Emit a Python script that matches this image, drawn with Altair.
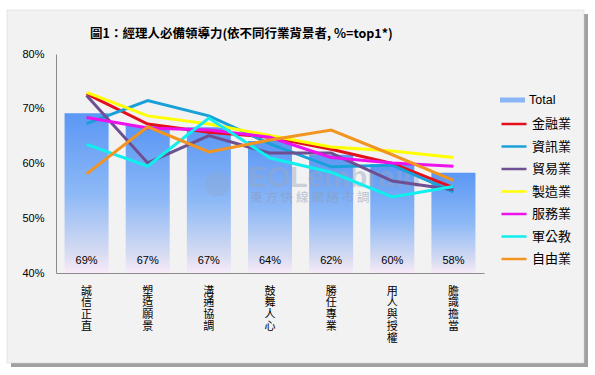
import altair as alt
import pandas as pd

categories = ["誠信正直", "塑造願景", "溝通協調", "鼓舞人心", "勝任專業", "用人與授權", "膽識擔當"]
total = [69.2, 66.9, 66.6, 64.1, 61.6, 59.9, 58.3]

series_names = ["金融業", "資訊業", "貿易業", "製造業", "服務業", "軍公教", "自由業"]
finance = [72.7, 67.2, 65.7, 64.8, 62.6, 60.0, 55.6]
info = [67.3, 71.5, 68.7, 63.6, 59.4, 59.7, 54.8]
trade = [72.4, 60.1, 65.1, 61.9, 61.9, 56.8, 55.2]
manuf = [73.0, 68.7, 67.2, 65.1, 63.0, 62.3, 61.1]
service = [68.4, 66.5, 66.1, 64.8, 61.1, 60.1, 59.5]
public = [63.5, 59.5, 68.3, 61.0, 58.4, 53.9, 55.8]
freelance = [58.1, 66.7, 62.1, 64.3, 66.1, 61.6, 56.9]
series_values = [finance, info, trade, manuf, service, public, freelance]
series_colors = ["#e3101c", "#1aa0d8", "#6e4f92", "#ffff00", "#ee11ee", "#11eeee", "#f29422"]

y_ticks = [40, 50, 60, 70, 80]

W, H = 428, 219
PL, PT = 56, 54

bar_df = pd.DataFrame({"cat": categories, "value": total, "key": ["Total"] * len(categories)})
rows = []
for name, vals in zip(series_names, series_values):
    for c, v in zip(categories, vals):
        rows.append({"cat": c, "series": name, "value": v})
line_df = pd.DataFrame(rows)

xscale = alt.Scale(domain=categories, paddingInner=0.28, paddingOuter=0.14)
yscale = alt.Scale(domain=[40, 80], nice=False, zero=False)

xenc = alt.X("cat:N", scale=xscale, sort=categories, title=None,
             axis=alt.Axis(labelAngle=0, labelExpr="split(datum.label, '')",
                           labelFont="Noto Sans CJK TC", labelFontSize=11,
                           labelLineHeight=11.8, labelBaseline="top",
                           labelPadding=12, ticks=False, domainColor="#8c8c8c",
                           labelColor="#000000", labelOverlap=False, zindex=2))
yenc = alt.Y("value:Q", scale=yscale, title=None,
             axis=alt.Axis(values=y_ticks, labelExpr="datum.value + '%'",
                           grid=False, ticks=False, domainColor="#8c8c8c",
                           labelFont="Liberation Sans", labelFontSize=11,
                           labelPadding=12, labelColor="#000000", zindex=2))

frame_data = alt.Data(values=[{"a": 1}])
shadow = alt.Chart(frame_data).mark_rect(color="#8a8a8a", opacity=0.8).encode(
    x=alt.value(7 - PL + 4), x2=alt.value(584 - PL + 4),
    y=alt.value(10 - PT + 4), y2=alt.value(363 - PT + 4))
frame = alt.Chart(frame_data).mark_rect(color="#f2f2f2", stroke="#d0d0d0", strokeWidth=0.5).encode(
    x=alt.value(7 - PL), x2=alt.value(584 - PL),
    y=alt.value(10 - PT), y2=alt.value(363 - PT))

grad = alt.Gradient(gradient="linear", x1=0, x2=0, y1=0, y2=1,
                    stops=[alt.GradientStop(color="#5b97f5", offset=0),
                           alt.GradientStop(color="#8cb8f6", offset=0.5),
                           alt.GradientStop(color="#d8dcf2", offset=0.88),
                           alt.GradientStop(color="#f8eaf8", offset=1)])

bars = alt.Chart(bar_df).mark_bar(color=grad).encode(
    x=xenc, y=yenc, y2=alt.Y2(datum=40))

total_legend = alt.Chart(bar_df).mark_point(filled=True, opacity=0, size=1).encode(
    x=alt.X("cat:N", scale=xscale, sort=categories),
    y=alt.Y("value:Q", scale=yscale),
    fill=alt.Fill("key:N", scale=alt.Scale(domain=["Total"], range=["#8ab6f6"]),
                  legend=alt.Legend(title=None, orient="none", legendX=500 - PL, legendY=92 - PT,
                                    symbolType="M-1,-0.2L1,-0.2L1,0.2L-1,0.2Z",
                                    symbolSize=625, symbolOpacity=1, symbolStrokeWidth=0,
                                    labelFont="Liberation Sans", labelFontSize=12.5,
                                    labelColor="#000000", labelOffset=4, clipHeight=16)))

bar_labels = alt.Chart(bar_df).transform_calculate(
    base="40", lbl="format(datum.value, '.0f') + '%'"
).mark_text(font="Liberation Sans", fontSize=11, color="#000000",
            baseline="middle", dy=-12).encode(
    x=alt.X("cat:N", scale=xscale, sort=categories),
    y=alt.Y("base:Q", scale=yscale),
    text="lbl:N")

lines = alt.Chart(line_df).mark_line(strokeWidth=3).encode(
    x=alt.X("cat:N", scale=xscale, sort=categories),
    y=alt.Y("value:Q", scale=yscale),
    color=alt.Color("series:N", scale=alt.Scale(domain=series_names, range=series_colors),
                    sort=series_names,
                    legend=alt.Legend(title=None, orient="none", legendX=500 - PL, legendY=114 - PT,
                                      symbolType="stroke", symbolSize=625, symbolStrokeWidth=2.5,
                                      labelFont="Noto Sans CJK TC", labelFontSize=13,
                                      labelColor="#000000", labelOffset=4, clipHeight=20,
                                      rowPadding=2.5)),
    order=alt.Order("series:N")
)

wm1 = alt.Chart(frame_data).mark_text(text="EOLembrain", font="Liberation Sans", fontSize=29,
                                      fontWeight="bold", color="#9aa6bf", opacity=0.45,
                                      align="left", baseline="alphabetic").encode(
    x=alt.value(248 - PL), y=alt.value(187 - PT))
wm2 = alt.Chart(frame_data).mark_text(text="東 方 快 線 網 絡 市 調", font="Noto Sans CJK TC",
                                      fontSize=12.5, color="#8f9bb5", opacity=0.55,
                                      align="left", baseline="middle").encode(
    x=alt.value(250 - PL), y=alt.value(198 - PT))
wm3 = alt.Chart(frame_data).mark_point(shape="circle", filled=True, size=600,
                                       color="#8fa6cc", opacity=0.35).encode(
    x=alt.value(217 - PL), y=alt.value(184 - PT))

chart = alt.layer(shadow, frame, bars, bar_labels, wm3, wm1, wm2, lines, total_legend).resolve_scale(
    color="independent", fill="independent"
).properties(
    width=W, height=H,
    padding={"left": PL, "top": PT, "right": 595 - PL - W, "bottom": 375 - PT - H},
    autosize=alt.AutoSizeParams(type="none"),
    background="#ffffff",
    title=alt.TitleParams("圖1：經理人必備領導力(依不同行業背景者, %=top1*)",
                          font="Noto Sans CJK TC", fontSize=12.5, fontWeight="bold",
                          color="#000000", anchor="start", frame="group", dx=34,
                          baseline="alphabetic", offset=0, dy=41, zindex=2)
).configure_view(stroke=None)

chart.save("out.html", embed_options={"renderer": "svg", "actions": False})
